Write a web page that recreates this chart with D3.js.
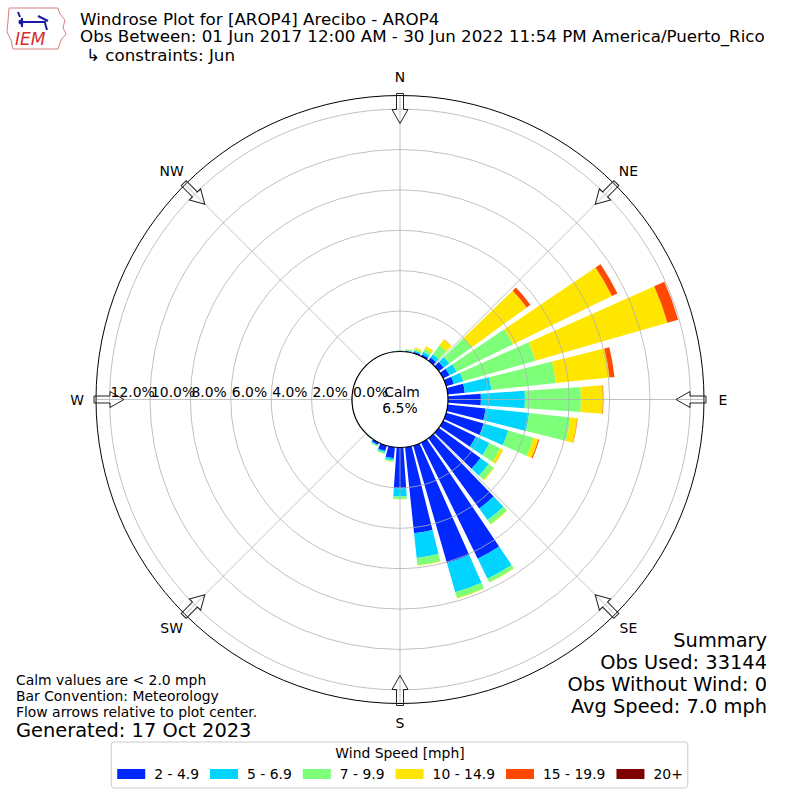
<!DOCTYPE html>
<html><head><meta charset="utf-8">
<script src="https://cdn.jsdelivr.net/npm/d3@7"></script>
<style>body{margin:0;background:#fff}svg{display:block}text{font-family:"DejaVu Sans",sans-serif;fill:#000}</style>
</head><body><svg id="c" width="800" height="800"></svg>
<script>
// ---------------- data ----------------
const directions = d3.range(0, 360, 10);
const speedBins = ["2 - 4.9", "5 - 6.9", "7 - 9.9", "10 - 14.9", "15 - 19.9", "20+"];
const binColors = ["#0028ff", "#00d4ff", "#7dff7a", "#ffe600", "#ff4800", "#7f0000"];
// percent of observations per direction (0,10,...,350) for each speed bin
const bin2to5   = [0.03,0.05,0.08,0.12,0.20,0.30,0.35,0.40,0.85,1.63,1.88,1.93,1.80,2.55,4.30,6.40,6.05,4.28,2.02,0.55,0.28,0.12,0.03,0.01,0.01,0.01,0.01,0.01,0.01,0.01,0.01,0.01,0.01,0.01,0.01,0.02];
const bin5to7   = [0.02,0.03,0.07,0.13,0.20,0.35,0.40,0.48,1.32,2.18,2.17,1.27,0.75,0.50,0.70,1.10,1.50,1.23,0.41,0.10,0.08,0.05,0.01,0.01,0.005,0,0.01,0.01,0.005,0,0,0,0,0,0.01,0.01];
const bin7to10  = [0.01,0.04,0.07,0.15,0.55,1.35,3.10,3.72,3.21,2.77,2.05,1.30,0.60,0.30,0.25,0.20,0.30,0.36,0.12,0.07,0.06,0.03,0.01,0,0,0,0,0.02,0,0,0,0,0,0,0,0];
const bin10to15 = [0.01,0.02,0.08,0.15,0.35,3.38,5.45,6.80,2.67,1.09,0.35,0.25,0.15,0.05,0.03,0.02,0.03,0.03,0.01,0.02,0.01,0.01,0,0,0,0,0,0,0,0,0,0,0,0,0,0];
const bin15to20 = [0,0,0,0,0.01,0.22,0.30,0.55,0.25,0.03,0.02,0.05,0.01,0,0,0,0,0,0,0,0,0,0,0,0,0,0,0,0,0,0,0,0,0,0,0];
const bin20plus = [0,0,0,0,0,0,0,0,0,0,0,0,0,0,0,0,0,0,0,0,0,0,0,0,0,0,0,0,0,0,0,0,0,0,0,0];
const radialTicks = [0, 2, 4, 6, 8, 10, 12];
const compassLabels = ["N", "NE", "E", "SE", "S", "SW", "W", "NW"];
const calmPct = 6.5;
const titleLines = ["Windrose Plot for [AROP4] Arecibo - AROP4",
  "Obs Between: 01 Jun 2017 12:00 AM - 30 Jun 2022 11:54 PM America/Puerto_Rico"];
const constraintLine = "\u21b3 constraints: Jun";
const noteLines = ["Calm values are < 2.0 mph", "Bar Convention: Meteorology", "Flow arrows relative to plot center."];
const generated = "Generated: 17 Oct 2023";
const summaryLines = ["Summary", "Obs Used: 33144", "Obs Without Wind: 0", "Avg Speed: 7.0 mph"];
const legendTitle = "Wind Speed [mph]";

// ---------------- drawing ----------------
const series = [bin2to5, bin5to7, bin7to10, bin10to15, bin15to20, bin20plus];
const svg = d3.select("#c");
const cx = 400, cy = 399.5, R0 = 48, R1 = 304;
const r = d3.scaleLinear().domain([0, 12.673]).range([R0, R1]);
const rad = d => d * Math.PI / 180;
const g = svg.append("g").attr("transform", `translate(${cx},${cy})`);

// bars
const arc = d3.arc();
const halfW = 4;
directions.forEach((dir, i) => {
  let cum = 0;
  series.forEach((s, k) => {
    const v = s[i];
    if (v > 0) {
      g.append("path")
        .attr("d", arc({innerRadius: r(cum), outerRadius: r(cum + v),
          startAngle: rad(dir - halfW), endAngle: rad(dir + halfW)}))
        .attr("fill", binColors[k]);
    }
    cum += v;
  });
});

// grid circles
radialTicks.filter(t => t > 0).forEach(t => {
  g.append("circle").attr("r", r(t)).attr("fill", "none")
    .attr("stroke", "#b0b0b0").attr("stroke-width", 0.8);
});
// spokes
d3.range(0, 360, 45).forEach(a => {
  const s = Math.sin(rad(a)), c = -Math.cos(rad(a));
  g.append("line").attr("x1", s * R0).attr("y1", c * R0).attr("x2", s * R1).attr("y2", c * R1)
    .attr("stroke", "#b0b0b0").attr("stroke-width", 0.8);
});
// outer circle
g.append("circle").attr("r", R1).attr("fill", "none").attr("stroke", "#000").attr("stroke-width", 1);

// compass labels and arrows
compassLabels.forEach((lab, i) => {
  const a = i * 45;
  const s = Math.sin(rad(a)), c = -Math.cos(rad(a));
  g.append("text").attr("x", s * 323).attr("y", c * 323)
    .attr("text-anchor", "middle").attr("dominant-baseline", "central")
    .attr("font-size", 13.9).text(lab);
  const pts = [[-3.5,-306],[3.5,-306],[3.5,-290],[8,-290],[0,-276],[-8,-290],[-3.5,-290]];
  g.append("path").attr("d", "M" + pts.map(p => p.join(",")).join("L") + "Z")
    .attr("transform", `rotate(${a})`)
    .attr("fill", "none").attr("stroke", "#222").attr("stroke-width", 1);
});

// calm circle
g.append("circle").attr("r", R0).attr("fill", "#fff").attr("stroke", "#000").attr("stroke-width", 1.2);
g.append("text").attr("x", 2).attr("y", -2.5).attr("text-anchor", "middle").attr("font-size", 13.9).text("Calm");
g.append("text").attr("x", 0).attr("y", 13).attr("text-anchor", "middle").attr("font-size", 13.9).text(calmPct.toFixed(1) + "%");

// radial labels (drawn over the calm circle, as in the reference)
radialTicks.forEach(t => {
  g.append("text").attr("x", -r(t) + 1).attr("y", -2.5)
    .attr("font-size", 13.9).text(t.toFixed(1) + "%");
});

// titles
svg.append("text").attr("x", 80).attr("y", 25).attr("font-size", 16.7).text(titleLines[0]);
svg.append("text").attr("x", 80).attr("y", 42).attr("font-size", 16.7).text(titleLines[1]);
svg.append("text").attr("x", 86).attr("y", 60.5).attr("font-size", 16.7).text(constraintLine);

// notes
noteLines.forEach((t, i) => {
  svg.append("text").attr("x", 16).attr("y", 685 + i * 16.2).attr("font-size", 13.9).text(t);
});
svg.append("text").attr("x", 16).attr("y", 737).attr("font-size", 19.4).text(generated);

// summary
summaryLines.forEach((t, i) => {
  svg.append("text").attr("x", 767).attr("y", 647 + i * 22).attr("text-anchor", "end")
    .attr("font-size", 19.4).text(t);
});

// legend
const lg = svg.append("g");
const box = lg.append("rect").attr("y", 742).attr("height", 46).attr("rx", 3)
  .attr("fill", "#fff").attr("stroke", "#cccccc").attr("stroke-width", 1);
lg.append("text").attr("x", 400).attr("y", 758).attr("text-anchor", "middle").attr("font-size", 13.9).text(legendTitle);
let x = 0;
const items = lg.append("g");
speedBins.forEach((lab, k) => {
  items.append("rect").attr("x", x).attr("y", 769).attr("width", 28).attr("height", 10).attr("fill", binColors[k]);
  const t = items.append("text").attr("x", x + 37).attr("y", 779).attr("font-size", 13.9).text(lab);
  x += 37 + t.node().getComputedTextLength() + 11;
});
const totalW = x - 11;
const x0 = 400 - totalW / 2;
items.attr("transform", `translate(${x0},0)`);
box.attr("x", x0 - 6).attr("width", totalW + 11);

// logo (simplified IEM)
const logo = svg.append("g");
logo.append("path").attr("d", "M9,8 L58,8 L60,14 L65,20 L63,28 L66,34 L61,40 L58,49 L13,49 L11,40 L7,32 L8,21 Z")
  .attr("fill", "#fff").attr("stroke", "#d98080").attr("stroke-width", 1);
logo.append("path").attr("d", "M22,22 L46,22 M22,18 L22,27 M38,16 L48,21 M45,23 L47,30 M18,12 L20,17")
  .attr("stroke", "#1a1aa0").attr("stroke-width", 2).attr("fill", "none");
logo.append("circle").attr("cx", 21).attr("cy", 22).attr("r", 2.5).attr("fill", "#1a1aa0");
logo.append("text").attr("x", 15).attr("y", 45).attr("font-family", "Liberation Serif").attr("font-style", "italic")
  .attr("font-size", 17).style("fill", "#d03030").text("IEM");
</script></body></html>
